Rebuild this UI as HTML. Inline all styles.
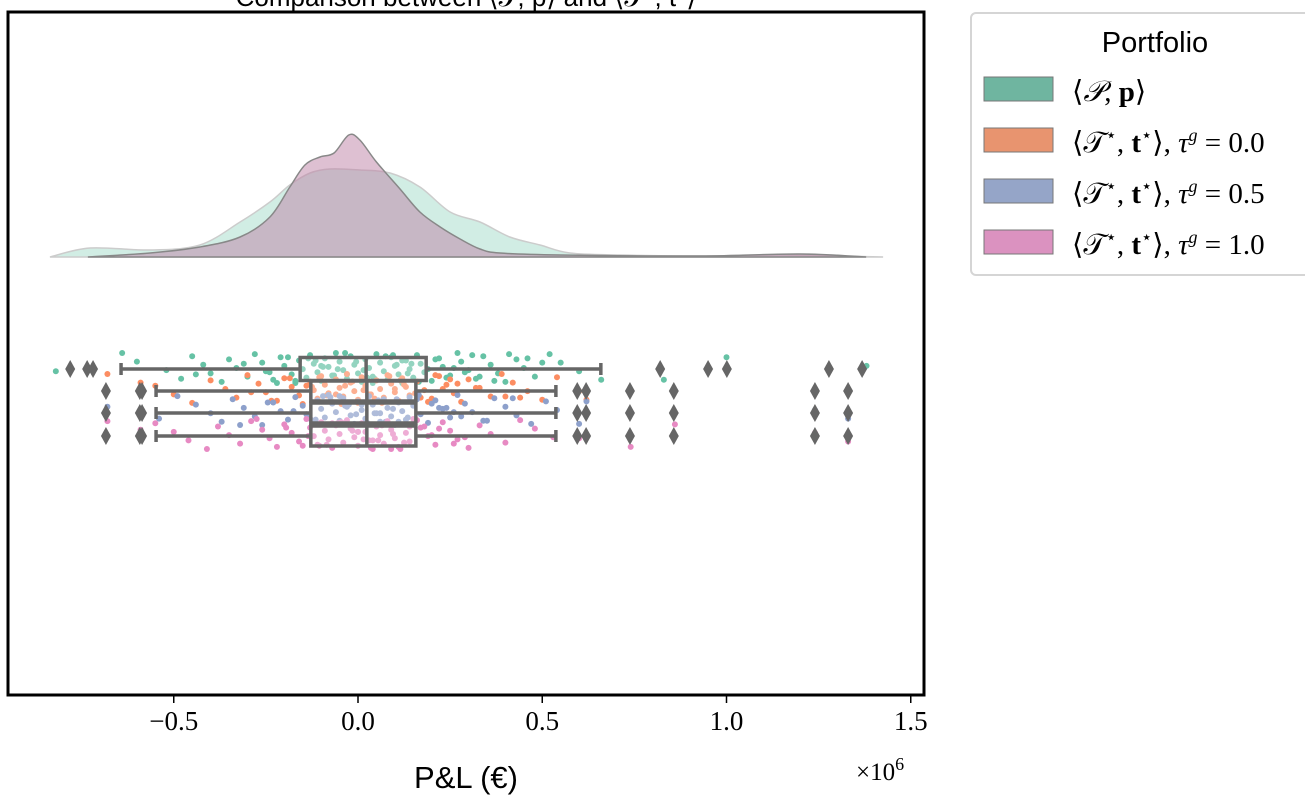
<!DOCTYPE html>
<html><head><meta charset="utf-8"><style>
body{margin:0;background:#fff;}
svg text{font-family:"Liberation Serif",serif;}
</style></head><body>
<svg id="chart" width="1305" height="798" viewBox="0 0 1305 798" xmlns="http://www.w3.org/2000/svg">
<text x="466" y="6" text-anchor="middle" font-size="26" style="font-family:'Liberation Sans',sans-serif">Comparison between ⟨𝒫, p⟩ and ⟨𝒯*, t*⟩</text>
<g id="plot"></g>
<rect x="8" y="12" width="916" height="683" fill="none" stroke="#000" stroke-width="3"/>
<g id="xaxis"></g>
<text x="466" y="788" text-anchor="middle" font-size="31" style="font-family:'Liberation Sans','DejaVu Sans',sans-serif">P&amp;L (€)</text>
<text x="856" y="780" font-size="25">×10<tspan dy="-10" font-size="18">6</tspan></text>
<g>
<rect x="971" y="13" width="345" height="262" rx="5" fill="#fff" stroke="#d5d5d5" stroke-width="2"/>
<text x="1155" y="52" text-anchor="middle" font-size="29" style="font-family:'Liberation Sans',sans-serif">Portfolio</text>
<g><rect x="984" y="77" width="69" height="24" fill="#6fb5a0" stroke="#777"/><text x="1072" y="101" font-size="29">⟨<tspan font-style="italic">𝒫</tspan>, <tspan font-weight="bold">p</tspan>⟩</text></g>
<g><rect x="984" y="128" width="69" height="24" fill="#e8946f" stroke="#777"/><text x="1072" y="152" font-size="29">⟨𝒯<tspan dy="-11" font-size="18">⋆</tspan><tspan dy="11">, </tspan><tspan font-weight="bold">t</tspan><tspan dy="-11" font-size="18">⋆</tspan><tspan dy="11">⟩, </tspan><tspan font-style="italic">τ</tspan><tspan dy="-11" font-size="18" font-style="italic">g</tspan><tspan dy="11"> = 0.0</tspan></text></g>
<g><rect x="984" y="179" width="69" height="24" fill="#95a5c8" stroke="#777"/><text x="1072" y="203" font-size="29">⟨𝒯<tspan dy="-11" font-size="18">⋆</tspan><tspan dy="11">, </tspan><tspan font-weight="bold">t</tspan><tspan dy="-11" font-size="18">⋆</tspan><tspan dy="11">⟩, </tspan><tspan font-style="italic">τ</tspan><tspan dy="-11" font-size="18" font-style="italic">g</tspan><tspan dy="11"> = 0.5</tspan></text></g>
<g><rect x="984" y="230" width="69" height="24" fill="#db92c0" stroke="#777"/><text x="1072" y="254" font-size="29">⟨𝒯<tspan dy="-11" font-size="18">⋆</tspan><tspan dy="11">, </tspan><tspan font-weight="bold">t</tspan><tspan dy="-11" font-size="18">⋆</tspan><tspan dy="11">⟩, </tspan><tspan font-style="italic">τ</tspan><tspan dy="-11" font-size="18" font-style="italic">g</tspan><tspan dy="11"> = 1.0</tspan></text></g>
</g>
</svg>
<script>
const xTicks=[-0.5,0.0,0.5,1.0,1.5];
const xTickLabels=["−0.5","0.0","0.5","1.0","1.5"];
const kdeGreenX=[-0.836,-0.727,-0.564,-0.429,-0.32,-0.239,-0.185,-0.13,-0.076,0.005,0.087,0.168,0.25,0.331,0.412,0.494,0.575,0.711,0.928,1.145,1.425];
const kdeGreenY=[0,9,7,12,35,55,72,84,88,87,84,70,45,35,20,12,4,2,1,2,0];
const kdePinkX=[-0.733,-0.564,-0.429,-0.32,-0.239,-0.185,-0.144,-0.103,-0.065,-0.025,0.005,0.05,0.114,0.168,0.223,0.277,0.331,0.385,0.548,0.928,1.2,1.379];
const kdePinkY=[0,4,10,20,40,70,92,100,104,122,117,95,68,45,30,18,8,4,2,1,3,0];
const seriesNames=["p","t00","t05","t10"];
const seriesColors=["#66c2a5","#fc8d62","#8da0cb","#e78ac3"];
const whiskLo=[-0.643,-0.548,-0.548,-0.548];
const whiskHi=[0.659,0.537,0.537,0.537];
const q1=[-0.157,-0.128,-0.128,-0.128];
const q3=[0.185,0.157,0.157,0.157];
const med=[0.022,0.024,0.024,0.024];
const outGreen=[-0.781,-0.735,-0.719,0.820,0.950,1.001,1.278,1.368];
const outT=[-0.684,-0.592,-0.586,0.595,0.619,0.738,0.857,1.240,1.330];
const ptsGreen=[-0.64,-0.6,-0.52,-0.48,-0.45,-0.42,-0.4,-0.37,-0.35,-0.33,-0.3,-0.28,-0.26,-0.25,-0.23,-0.21,-0.2,-0.18,-0.17,-0.16,-0.15,-0.14,-0.13,-0.12,-0.11,-0.1,-0.09,-0.08,-0.07,-0.06,-0.05,-0.04,-0.03,-0.02,-0.01,0,0.01,0.02,0.03,0.04,0.05,0.06,0.07,0.08,0.09,0.1,0.11,0.12,0.13,0.14,0.15,0.16,0.17,0.18,0.2,0.22,0.23,0.25,0.27,0.28,0.3,0.32,0.34,0.36,0.38,0.4,0.43,0.45,0.48,0.52,0.55,0.6,0.66,-0.19,-0.1,-0.03,0.04,0.12,0.19,0.24,0.31,-0.31,-0.24,-0.17,-0.135,-0.095,-0.065,-0.035,-0.005,0.015,0.045,0.075,0.105,0.135,0.165,0.21,0.26,0.33,0.41,0.5,-0.82,0.83,1.0,1.38,-0.44,-0.22,-0.115,-0.055,0.025,0.095,0.145,0.29,0.37,0.46];
const ptsOrange=[-0.55,-0.5,-0.45,-0.4,-0.36,-0.33,-0.3,-0.27,-0.25,-0.22,-0.2,-0.18,-0.16,-0.15,-0.13,-0.12,-0.11,-0.1,-0.09,-0.08,-0.07,-0.06,-0.05,-0.04,-0.03,-0.02,-0.01,0,0.01,0.02,0.03,0.04,0.05,0.06,0.07,0.08,0.09,0.1,0.11,0.12,0.13,0.14,0.15,0.16,0.18,0.2,0.22,0.24,0.26,0.28,0.3,0.33,0.36,0.39,0.42,0.46,0.5,0.54,-0.14,-0.06,0.0,0.05,0.1,0.17,0.21,0.27,-0.29,-0.235,-0.185,-0.125,-0.085,-0.045,-0.015,0.015,0.045,0.085,0.125,0.155,0.19,0.25,0.32,0.4,-0.68,-0.59,0.6,0.62,-0.105,-0.035,0.035,0.065,0.115,0.23,0.44];
const ptsBlue=[-0.54,-0.49,-0.44,-0.4,-0.37,-0.34,-0.31,-0.28,-0.26,-0.23,-0.21,-0.19,-0.17,-0.15,-0.14,-0.12,-0.11,-0.1,-0.09,-0.08,-0.07,-0.06,-0.05,-0.04,-0.03,-0.02,-0.01,0,0.01,0.02,0.03,0.04,0.05,0.06,0.07,0.08,0.09,0.1,0.11,0.12,0.13,0.14,0.15,0.17,0.19,0.21,0.23,0.25,0.27,0.29,0.31,0.34,0.37,0.4,0.43,0.47,0.51,0.54,-0.13,-0.05,0.01,0.06,0.11,0.16,0.22,0.28,-0.32,-0.245,-0.175,-0.115,-0.075,-0.035,-0.005,0.025,0.055,0.095,0.135,0.165,0.2,0.26,0.35,0.42,-0.68,-0.59,0.6,0.62,1.24,1.33,-0.095,-0.025,0.045,0.075,0.105,0.24];
const ptsPink=[-0.55,-0.5,-0.46,-0.41,-0.38,-0.35,-0.32,-0.29,-0.26,-0.24,-0.22,-0.2,-0.18,-0.16,-0.14,-0.13,-0.12,-0.11,-0.1,-0.09,-0.08,-0.07,-0.06,-0.05,-0.04,-0.03,-0.02,-0.01,0,0.01,0.02,0.03,0.04,0.05,0.06,0.07,0.08,0.09,0.1,0.11,0.12,0.13,0.14,0.15,0.17,0.19,0.21,0.23,0.25,0.27,0.3,0.33,0.36,0.4,0.44,0.48,0.53,-0.15,-0.07,0.0,0.04,0.09,0.14,0.2,0.26,-0.68,-0.59,0.6,0.74,0.86,1.24,1.33,-0.275,-0.195,-0.135,-0.085,-0.045,-0.015,0.015,0.035,0.065,0.095,0.125,0.16,0.22,0.29,-0.105,-0.055,0.0,0.055,0.115,0.18];
const NS="http://www.w3.org/2000/svg";
function X(v){return 358+v*368.5;}
function KY(d){return 257-d;}
const rowY=[369,391,413,436];
const boxH=[23,20,20,20];
const plot=document.getElementById('plot');
function mk(tag,attrs,parent){const e=document.createElementNS(NS,tag);for(const k in attrs)e.setAttribute(k,attrs[k]);(parent||plot).appendChild(e);return e;}
function smooth(xs,ys){let p=[];for(let i=0;i<xs.length;i++)p.push([X(xs[i]),KY(ys[i])]);
 let d=`M${p[0][0]},257 L${p[0][0]},${p[0][1]}`;
 for(let i=0;i<p.length-1;i++){const p0=p[Math.max(0,i-1)],p1=p[i],p2=p[i+1],p3=p[Math.min(p.length-1,i+2)];
  d+=` C${p1[0]+(p2[0]-p0[0])/6},${p1[1]+(p2[1]-p0[1])/6} ${p2[0]-(p3[0]-p1[0])/6},${p2[1]-(p3[1]-p1[1])/6} ${p2[0]},${p2[1]}`;}
 return d+` L${p[p.length-1][0]},257 Z`;}
let g=mk('path',{d:smooth(kdeGreenX,kdeGreenY),fill:'rgba(102,194,165,0.3)',stroke:'#ccc','stroke-width':1.5});


let pk=mk('path',{d:smooth(kdePinkX,kdePinkY),fill:'rgba(190,130,165,0.5)',stroke:'#888','stroke-width':1.5});


const pts=[ptsGreen,ptsOrange,ptsBlue,ptsPink];
const dotCenter=[368,389,410,434];
for(let s=0;s<4;s++){pts[s].forEach((v,i)=>{const j=(((i*37+s*11)%29)/28-0.5)*30;
 const c=mk('circle',{cx:X(v),cy:dotCenter[s]+j,r:3,fill:seriesColors[s]});
 
 });}
for(let s=3;s>=0;s--){const y=rowY[s],h=boxH[s];
 const w=mk('path',{d:`M${X(whiskLo[s])},${y} H${X(q1[s])} M${X(q3[s])},${y} H${X(whiskHi[s])} M${X(whiskLo[s])},${y-6} V${y+6} M${X(whiskHi[s])},${y-6} V${y+6}`,stroke:'#666','stroke-width':3.5,fill:'none'});
 
 
 const b=mk('rect',{x:X(q1[s]),y:y-h/2,width:X(q3[s])-X(q1[s]),height:h,fill:'rgba(255,255,255,0.3)',stroke:'#666','stroke-width':3.5});
 
 
 const m=mk('line',{x1:X(med[s]),x2:X(med[s]),y1:y-h/2,y2:y+h/2,stroke:'#666','stroke-width':3.5});
 
 
 const outs=s===0?outGreen:outT;
 outs.forEach(v=>{const x=X(v);const o=mk('path',{d:`M${x},${y-9} L${x+5},${y} L${x},${y+9} L${x-5},${y} Z`,fill:'#666'});
  
  });}
const ax=document.getElementById('xaxis');
xTicks.forEach((t,i)=>{const x=X(t);
 const l=mk('line',{x1:x,x2:x,y1:695,y2:703,stroke:'#000','stroke-width':1.5},ax);
 
 
 const tx=mk('text',{x:x,y:730,'text-anchor':'middle','font-size':27},ax);tx.textContent=xTickLabels[i];
 
 });
</script>
</body></html>
